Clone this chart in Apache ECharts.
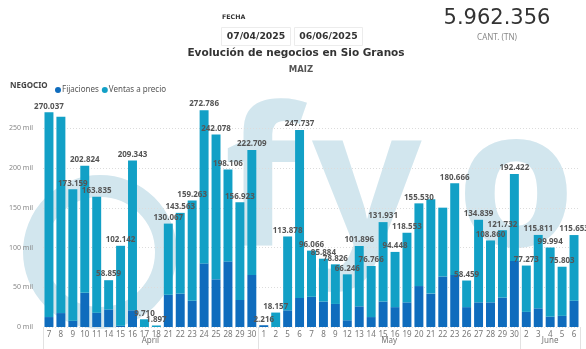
<!DOCTYPE html>
<html>
<head>
<meta charset="utf-8">
<script src="https://cdn.jsdelivr.net/npm/echarts@6/dist/echarts.min.js"></script>
<style>
  html, body { margin: 0; padding: 0; background: #fff; }
  #chart { width: 586px; height: 349px; }
</style>
</head>
<body>
<div id="chart"></div>
<script>
// Trading days (day of month), grouped by month
const days = ['7','8','9','10','11','14','15','16','17','18','21','22','23','24','25','28','29','30',
              '1','2','5','6','7','8','9','12','13','14','15','16','19','20','21','22','23','26','27','28','29','30',
              '2','3','4','5','6'];
const monthNames = ['April', 'May', 'June'];
const monthCounts = [18, 22, 5];

// Daily totals (tn) and the "Fijaciones" part of each day
const totals = [270037, 264600, 173159, 202824, 163835, 58859, 102142, 209343, 9710, 1897,
                130067, 143563, 159263, 272786, 242078, 198106, 156923, 222709,
                2216, 18157, 113878, 247737, 96066, 85884, 78826, 66246, 101896, 76766,
                131931, 94448, 118553, 155530, 160700, 150109, 180666, 58459, 134839, 108860,
                121732, 192422,
                77273, 115811, 99994, 75803, 115653];
const fijaciones = [12500, 17500, 8000, 43000, 18000, 22000, 1500, 21000, 0, 0,
                    40500, 42000, 33000, 80000, 60000, 82500, 34000, 65500,
                    2216, 0, 21000, 36500, 38000, 32000, 29000, 8500, 26000, 12500,
                    32000, 25000, 31000, 51500, 42000, 63500, 65500, 25000, 31000, 31000,
                    37000, 83000,
                    19000, 23500, 13000, 14000, 33000];
// Days whose total label is not printed
const unlabeledDays = [1, 32, 33];

const ventas = totals.map((t, i) => t - fijaciones[i]);

const fmt = n => String(Math.round(n)).replace(/\B(?=(\d{3})+(?!\d))/g, '.');
const grandTotal = totals.reduce((a, b) => a + b, 0);

// month group boundaries and centres on a 0..N scale
const bounds = [0];
monthCounts.forEach(c => bounds.push(bounds[bounds.length - 1] + c));
const centres = monthCounts.map((c, i) => bounds[i] + c / 2);

const FONT = '"Noto Sans", sans-serif';
const HEAD = '"DejaVu Sans", sans-serif';
const C_FIJ = '#0f6cbd';
const C_VEN = '#12a0c6';
const C_WM = '#d2e6ee';

const chart = echarts.init(document.getElementById('chart'), null, { renderer: 'canvas' });

const wmFont = 'bold 192px "Noto Sans"';
const wmTop = 95;

chart.setOption({
  animation: false,
  textStyle: { fontFamily: FONT },
  grid: { left: 43, right: 6, top: 104.4, bottom: 22 },
  legend: {
    left: 50, top: 81,
    icon: 'circle', itemWidth: 6, itemHeight: 6, itemGap: 3,
    textStyle: { fontSize: 8, color: '#555', fontFamily: FONT, padding: [0, 0, 0, -4] },
    data: ['Fijaciones', 'Ventas a precio']
  },
  graphic: [
    // faint background logo
    { type: 'circle', silent: true, z: -10, shape: { cx: 100, cy: 252, r: 66 },
      style: { fill: 'none', stroke: C_WM, lineWidth: 22 } },
    { type: 'text', silent: true, z: -10, left: 224, top: wmTop,
      style: { text: 'f', font: wmFont, fill: C_WM } },
    { type: 'text', silent: true, z: -10, left: 312, top: wmTop,
      style: { text: 'y', font: wmFont, fill: C_WM } },
    { type: 'text', silent: true, z: -10, left: 456, top: wmTop,
      style: { text: 'o', font: wmFont, fill: C_WM } },

    { type: 'text', left: 10, top: 82,
      style: { text: 'NEGOCIO', font: 'bold 8px ' + FONT, fill: '#444' } },

    { type: 'text', left: 222, top: 14,
      style: { text: 'FECHA', font: 'bold 6.3px ' + HEAD, fill: '#333' } },
    { type: 'rect', shape: { x: 221.5, y: 27.5, width: 69, height: 18 },
      style: { fill: '#fff', stroke: '#ececec', lineWidth: 1 } },
    { type: 'rect', shape: { x: 294.5, y: 27.5, width: 68, height: 18 },
      style: { fill: '#fff', stroke: '#ececec', lineWidth: 1 } },
    { type: 'text', x: 256, y: 36.5,
      style: { text: '07/04/2025', font: 'bold 9.3px ' + HEAD, fill: '#333', align: 'center', verticalAlign: 'middle' } },
    { type: 'text', x: 328.5, y: 36.5,
      style: { text: '06/06/2025', font: 'bold 9.3px ' + HEAD, fill: '#333', align: 'center', verticalAlign: 'middle' } },
    { type: 'text', x: 296, y: 53,
      style: { text: 'Evolución de negocios en Sio Granos', font: 'bold 10.5px ' + HEAD, fill: '#333', align: 'center', verticalAlign: 'middle' } },
    { type: 'text', x: 301, y: 69.5,
      style: { text: 'MAIZ', font: 'bold 8.5px ' + HEAD, fill: '#555', align: 'center', verticalAlign: 'middle' } },
    { type: 'text', x: 497, y: 19,
      style: { text: fmt(grandTotal), font: '21px ' + HEAD, fill: '#333', align: 'center', verticalAlign: 'middle' } },
    { type: 'text', x: 497, y: 38,
      style: { text: 'CANT. (TN)', font: '8px ' + FONT, fill: '#888', align: 'center', verticalAlign: 'middle' } }
  ],
  xAxis: [
    {
      type: 'category', data: days,
      axisLine: { show: false }, axisTick: { show: false },
      axisLabel: { interval: 0, fontSize: 8, color: '#777', margin: 4 }
    },
    {
      type: 'value', min: 0, max: days.length, position: 'bottom',
      axisLine: { show: false }, splitLine: { show: false },
      axisTick: { show: true, customValues: bounds, length: 22, lineStyle: { color: '#e2e2e2' } },
      axisLabel: {
        customValues: centres, margin: 10, fontSize: 8, color: '#777',
        formatter: v => { const i = centres.indexOf(v); return i >= 0 ? monthNames[i] : ''; }
      }
    }
  ],
  yAxis: {
    type: 'value', min: 0, max: 280000, interval: 50000,
    axisLine: { show: false }, axisTick: { show: false },
    axisLabel: { fontSize: 7, color: '#888', margin: 10, showMaxLabel: false,
                 formatter: v => (v % 50000 === 0 ? (v / 1000) + ' mil' : '') },
    splitLine: { showMaxLine: false, lineStyle: { color: '#dcdcdc', type: [1, 2] } }
  },
  series: [
    {
      name: 'Fijaciones', type: 'bar', stack: 'neg', data: fijaciones,
      barCategoryGap: '25%', itemStyle: { color: C_FIJ }
    },
    {
      name: 'Ventas a precio', type: 'bar', stack: 'neg', data: ventas,
      barCategoryGap: '25%', itemStyle: { color: C_VEN },
      label: {
        show: true, position: 'top', distance: 2,
        fontSize: 8, fontWeight: 'bold', color: '#555', fontFamily: FONT,
        formatter: p => unlabeledDays.includes(p.dataIndex) ? '' : fmt(totals[p.dataIndex])
      }
    }
  ]
});
</script>
</body>
</html>
